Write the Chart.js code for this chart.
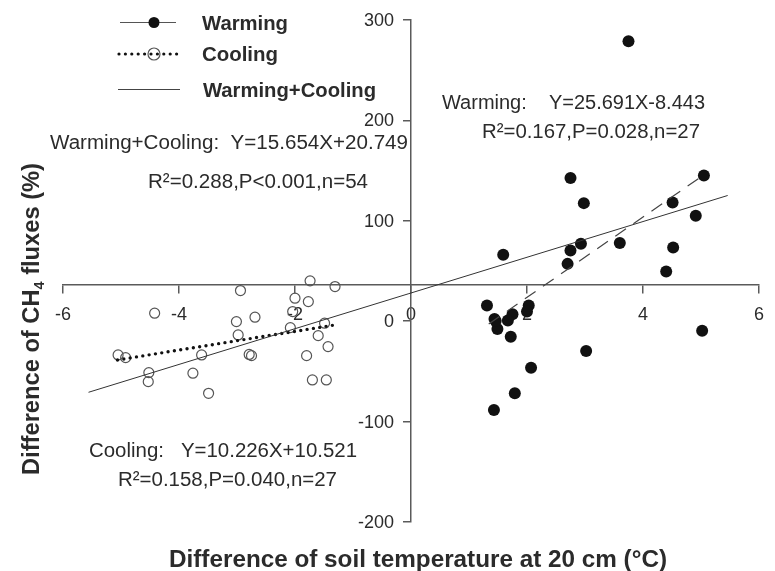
<!DOCTYPE html>
<html>
<head>
<meta charset="utf-8">
<script src="https://cdn.jsdelivr.net/npm/chart.js@4.4.3/dist/chart.umd.min.js"></script>
<style>
  html, body { margin: 0; padding: 0; background: #fff; }
  #wrap { width: 775px; height: 571px; position: relative; }
</style>
</head>
<body>
<div id="wrap"><canvas id="chart" width="775" height="571"></canvas></div>
<script>
// soil temperature difference (x, °C) vs CH4 flux difference (y, %)
const warmingX = [2.75, 2.98, 1.59, 2.93, 2.75, 2.70, 1.31, 2.03, 2.00, 1.75, 1.44, 1.67, 1.49, 1.72,
                  3.02, 2.07, 1.79, 1.43, 3.75, 5.05, 4.51, 4.91, 3.60, 4.52, 4.40, 5.02, 1.46];
const warmingY = [142.6, 117.6, 66.1, 77.1, 70.4, 57.1, 15.6, 15.6, 9.6, 7.0, 2.3, 0.6, -7.7, -15.4,
                  -29.6, -46.3, -71.8, -88.4, 278.8, 145.2, 118.2, 105.0, 77.8, 73.4, 49.5, -9.4, 0.3];

const coolingX = [-5.05, -4.92, -4.52, -4.53, -4.42, -3.76, -3.61, -3.49, -2.94, -3.01, -2.98, -2.75, -2.79,
                  -2.69, -1.74, -1.31, -2.00, -1.77, -2.04, -2.08, -1.49, -1.60, -1.43, -1.80, -1.70, -1.46];
const coolingY = [-33.6, -36.3, -51.2, -60.2, 8.0, -51.8, -33.6, -71.8, 30.5, -0.4, -13.7, -34.3, -33.1,
                  4.0, 40.2, 34.5, 22.9, 19.5, 9.6, -6.4, -2.0, -14.4, -25.3, -34.3, -58.5, -58.5];

// end points of the fitted lines
const warmingFitX = [1.34, 5.01];
const warmingFitY = [-2.7, 144.2];
const coolingFitX = [-5.06, -1.31];
const coolingFitY = [-38.6, -3.7];
const allFitX = [-5.56, 5.46];
const allFitY = [-70.8, 125.2];

const xTicks = [-6, -4, -2, 0, 2, 4, 6];
const yTicks = [-200, -100, 0, 100, 200, 300];

const zip = (xs, ys) => xs.map((x, i) => ({ x: x, y: ys[i] }));

const TEXT = '#2b2b2b';
const AXIS = '#5a5a5a';
const FONT = '"Liberation Sans", Arial, sans-serif';

// draw a string starting at left, alphabetic baseline, squeezed/stretched to width
function fitText(ctx, str, left, base, width, font) {
    ctx.save();
    ctx.font = font;
    const w = ctx.measureText(str).width;
    ctx.translate(left, base);
    ctx.scale(width / w, 1);
    ctx.textAlign = 'left';
    ctx.textBaseline = 'alphabetic';
    ctx.fillStyle = TEXT;
    ctx.fillText(str, 0, 0);
    ctx.restore();
}

const annotations = {
    id: 'annotations',
    afterDraw(chart) {
        const ctx = chart.ctx;
        ctx.save();

        // y tick labels, right-aligned left of the crossing axis
        const ys = chart.scales.y;
        ctx.font = '18px ' + FONT;
        ctx.fillStyle = TEXT;
        ctx.textAlign = 'right';
        ctx.textBaseline = 'middle';
        yTicks.forEach(v => ctx.fillText(String(v), 394, ys.getPixelForValue(v) + 1));

        // legend
        ctx.strokeStyle = '#555';
        ctx.lineWidth = 1.2;
        ctx.beginPath();
        ctx.moveTo(120, 22.5); ctx.lineTo(176, 22.5);
        ctx.stroke();
        ctx.fillStyle = '#111';
        ctx.beginPath();
        ctx.arc(154, 22.5, 5.5, 0, Math.PI * 2);
        ctx.fill();

        ctx.save();
        ctx.strokeStyle = '#111';
        ctx.lineWidth = 3.2;
        ctx.lineCap = 'round';
        ctx.setLineDash([0, 6.4]);
        ctx.beginPath();
        ctx.moveTo(119, 54); ctx.lineTo(183, 54);
        ctx.stroke();
        ctx.restore();
        ctx.strokeStyle = '#555';
        ctx.lineWidth = 1.2;
        ctx.beginPath();
        ctx.arc(154, 54, 6, 0, Math.PI * 2);
        ctx.stroke();

        ctx.strokeStyle = '#444';
        ctx.lineWidth = 1;
        ctx.beginPath();
        ctx.moveTo(118, 89.5); ctx.lineTo(180, 89.5);
        ctx.stroke();

        const bold = 'bold 20px ' + FONT;
        fitText(ctx, 'Warming', 202, 29.5, 86, bold);
        fitText(ctx, 'Cooling', 202, 60.5, 76, bold);
        fitText(ctx, 'Warming+Cooling', 203, 96.5, 173, bold);

        // regression statistics
        const reg = '20px ' + FONT;
        fitText(ctx, 'Warming+Cooling:  Y=15.654X+20.749', 50, 148.5, 358, reg);
        fitText(ctx, 'R²=0.288,P<0.001,n=54', 148, 187.5, 220, reg);
        fitText(ctx, 'Warming:    Y=25.691X-8.443', 442, 108.5, 263, reg);
        fitText(ctx, 'R²=0.167,P=0.028,n=27', 482, 138, 218, reg);
        fitText(ctx, 'Cooling:   Y=10.226X+10.521', 89, 456.5, 268, reg);
        fitText(ctx, 'R²=0.158,P=0.040,n=27', 118, 486, 219, reg);

        // x axis title
        fitText(ctx, 'Difference of soil temperature at 20 cm (°C)', 169, 566.5, 498, 'bold 23px ' + FONT);

        // y axis title with subscript
        ctx.save();
        ctx.translate(39, 319);
        ctx.rotate(-Math.PI / 2);
        const parts = [
            { t: 'Difference of CH', f: 'bold 23px ' + FONT, dy: 0 },
            { t: '4', f: 'bold 14px ' + FONT, dy: 5 },
            { t: ' fluxes (%)', f: 'bold 23px ' + FONT, dy: 0 }
        ];
        let total = 0;
        parts.forEach(p => { ctx.font = p.f; p.w = ctx.measureText(p.t).width; total += p.w; });
        const len = 312;
        ctx.scale(len / total, 1);
        let x = -total / 2;
        ctx.fillStyle = TEXT;
        ctx.textAlign = 'left';
        ctx.textBaseline = 'alphabetic';
        parts.forEach(p => {
            ctx.font = p.f;
            ctx.fillText(p.t, x, p.dy);
            x += p.w;
        });
        ctx.restore();

        ctx.restore();
    }
};

new Chart(document.getElementById('chart'), {
    type: 'scatter',
    data: {
        datasets: [
            {
                label: 'Warming+Cooling',
                data: zip(allFitX, allFitY),
                showLine: true,
                borderColor: '#333',
                borderWidth: 1,
                pointRadius: 0
            },
            {
                label: 'Warming fit',
                data: zip(warmingFitX, warmingFitY),
                showLine: true,
                borderColor: '#444',
                borderWidth: 1.2,
                borderDash: [13, 9],
                pointRadius: 0
            },
            {
                label: 'Cooling fit',
                data: zip(coolingFitX, coolingFitY),
                showLine: true,
                borderColor: '#111',
                borderWidth: 3.4,
                borderDash: [0, 6.4],
                borderCapStyle: 'round',
                pointRadius: 0
            },
            {
                label: 'Warming',
                data: zip(warmingX, warmingY),
                pointRadius: 6,
                pointBackgroundColor: '#111',
                pointBorderColor: '#111',
                pointBorderWidth: 0
            },
            {
                label: 'Cooling',
                data: zip(coolingX, coolingY),
                pointRadius: 5,
                pointBackgroundColor: 'rgba(255,255,255,0)',
                pointBorderColor: '#555',
                pointBorderWidth: 1.2
            }
        ]
    },
    options: {
        responsive: false,
        animation: false,
        layout: { padding: { left: 63, right: 12, top: 20, bottom: 49 } },
        plugins: {
            legend: { display: false },
            tooltip: { enabled: false }
        },
        scales: {
            x: {
                type: 'linear',
                min: -6,
                max: 6,
                position: { y: 36 },
                afterBuildTicks: axis => { axis.ticks = xTicks.map(v => ({ value: v })); },
                border: { display: true, color: AXIS, width: 1.5 },
                grid: { drawOnChartArea: false, drawTicks: true, tickLength: 8, color: AXIS, lineWidth: 1.5 },
                ticks: { autoSkip: false, maxRotation: 0, padding: 11, color: TEXT, font: { family: FONT, size: 18 } }
            },
            y: {
                type: 'linear',
                min: -200,
                max: 300,
                position: { x: 0 },
                afterBuildTicks: axis => { axis.ticks = yTicks.map(v => ({ value: v })); },
                border: { display: true, color: AXIS, width: 1.5 },
                grid: { drawOnChartArea: false, drawTicks: true, tickLength: 7, color: AXIS, lineWidth: 1.5 },
                ticks: { display: false, font: { family: FONT, size: 18 } }
            }
        }
    },
    plugins: [annotations]
});
</script>
</body>
</html>
